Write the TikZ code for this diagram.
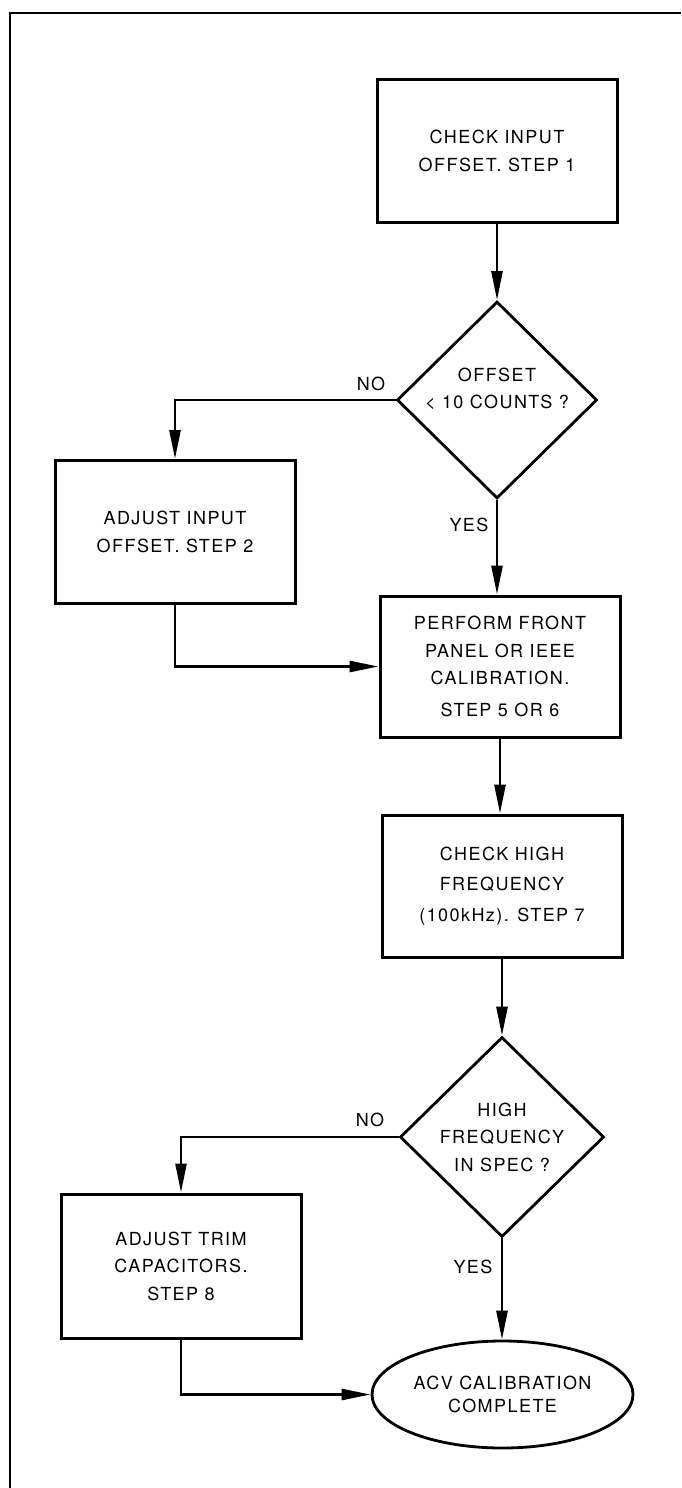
\documentclass[tikz,border=0pt]{standalone}
\usepackage{fontspec}
\setmainfont{TeX Gyre Heros}[LetterSpace=8]
\usetikzlibrary{shapes.geometric,arrows.meta}
\tikzset{
  txt/.style={font=\fontsize{18}{27.5}\selectfont, align=center},
  stepbox/.style={draw, line width=3pt, rectangle, minimum width=240pt, minimum height=143pt, inner sep=0pt, txt},
  decision/.style={draw, line width=2.8pt, diamond, aspect=1, inner sep=0pt, txt},
  terminal/.style={draw, line width=2.8pt, ellipse, minimum width=261pt, minimum height=107pt, inner sep=0pt, font=\fontsize{18}{22.5}\selectfont, align=center},
  conn/.style={line width=2.7pt, -{Triangle[length=29pt,width=11pt]}},
  lbl/.style={font=\fontsize{18}{20}\selectfont, inner sep=0pt},
  frame/.style={line width=2pt}
}
\begin{document}
\begin{tikzpicture}[x=1pt,y=-1pt]
\useasboundingbox (0,0) rectangle (681,1488);
% frame
\coordinate (fa) at (10,1488);
\coordinate (fb) at (10,13);
\coordinate (fc) at (681,13);
\draw[frame] (fa) -- (fb) -- (fc);

\node[stepbox] (b1) at (497,151) {CHECK INPUT\\OFFSET. STEP 1};
\node[decision, minimum width=200pt, minimum height=197pt] (d1) at (497,400) {};
\node[txt] (d1t) at (497,389) {OFFSET\\< 10 COUNTS ?};
\node[stepbox] (b2) at (175,532) {ADJUST INPUT\\OFFSET. STEP 2};
\node[stepbox, minimum height=141pt] (b3) at (500,666.5) {PERFORM FRONT\\PANEL OR IEEE\\CALIBRATION.\\[4pt]STEP 5 OR 6};
\node[stepbox, minimum height=142pt] (b4) at (502,886) {CHECK HIGH\\[3pt]FREQUENCY\\[3pt](100kHz). STEP 7};
\node[decision, minimum width=204pt, minimum height=200pt] (d2) at (502,1137) {HIGH\\FREQUENCY\\IN SPEC ?};
\node[stepbox, minimum height=144pt] (b5) at (181,1266) {ADJUST TRIM\\CAPACITORS.\\STEP 8};
\node[terminal] (e) at (502.5,1394.5) {ACV CALIBRATION\\COMPLETE};

% connectors
\draw[conn] (b1.south) -- (b1.south |- d1.north);
\draw[conn] (d1.west) -| (b2.north);
\draw[conn] (d1.south) -- (d1.south |- b3.north);
\draw[conn] (b2.south) |- (b3.west);
\draw[conn] (b3.south) -- (b3.south |- b4.north);
\draw[conn] (b4.south) -- (b4.south |- d2.north);
\draw[conn] (d2.west) -| (b5.north);
\draw[conn] (d2.south) -- (d2.south |- e.north);
\draw[conn] (b5.south) |- (e.west);

% labels
\node[lbl] (no1) at (371,384) {NO};
\node[lbl] (yes1) at (469,525) {YES};
\node[lbl] (no2) at (370,1120) {NO};
\node[lbl] (yes2) at (473,1267) {YES};
\end{tikzpicture}
\end{document}
